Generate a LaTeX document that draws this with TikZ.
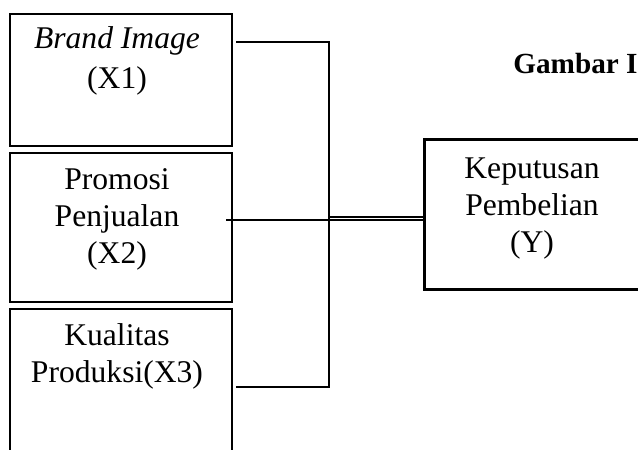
\documentclass[tikz,border=0pt]{standalone}
\usepackage{fontspec}
\setmainfont{Liberation Serif}
\begin{document}
\begin{tikzpicture}[x=0.5pt,y=-0.5pt,
  box/.style={draw, line width=1pt, inner sep=0pt, anchor=north west},
  lbl/.style={align=center, anchor=base, inner sep=0pt},
  conn/.style={draw, line width=1pt}]
\useasboundingbox (0,0) rectangle (638,450);
\clip (0,0) rectangle (638,450);
% boxes
\node[box, minimum width=111pt, minimum height=66pt] (bx1) at (9,13) {};
\node[box, minimum width=111pt, minimum height=74.5pt] (bx2) at (9,152) {};
\node[box, minimum width=111pt, minimum height=81pt] (bx3) at (9,308) {};
\node[box, line width=1.3pt, minimum width=118.5pt, minimum height=75pt] (by) at (423,138) {};
% labels (anchor = baseline of last line)
\node[lbl, font=\fontsize{15.8}{20}\selectfont] (t1) at (117,88) {\textit{Brand Image}\\(X1)};
\node[lbl, font=\fontsize{15.8}{18.3}\selectfont] (t2) at (117,263) {Promosi\\Penjualan\\(X2)};
\node[lbl, font=\fontsize{15.8}{18.5}\selectfont] (t3) at (117,382) {Kualitas\\Produksi(X3)};
\node[lbl, font=\fontsize{15.8}{18.5}\selectfont] (ty) at (532,252) {Keputusan\\Pembelian\\(Y)};
\node[inner sep=0pt, anchor=base west, font=\fontsize{14.6}{17}\selectfont\bfseries] (title) at (513,73) {Gambar I};
% connectors
\coordinate (c1) at (236,42);
\coordinate (c3) at (236,387);
\coordinate (c2) at (226,220);
\coordinate (j1) at (329,42);
\coordinate (j3) at (329,387);
\coordinate (jm) at (329,217);
\draw[conn] (c1) -- (j1) -- (j3) -- (c3);
\draw[conn] (jm) -- (jm -| by.west);
\draw[conn] (c2) -- (c2 -| by.west);
\end{tikzpicture}
\end{document}
